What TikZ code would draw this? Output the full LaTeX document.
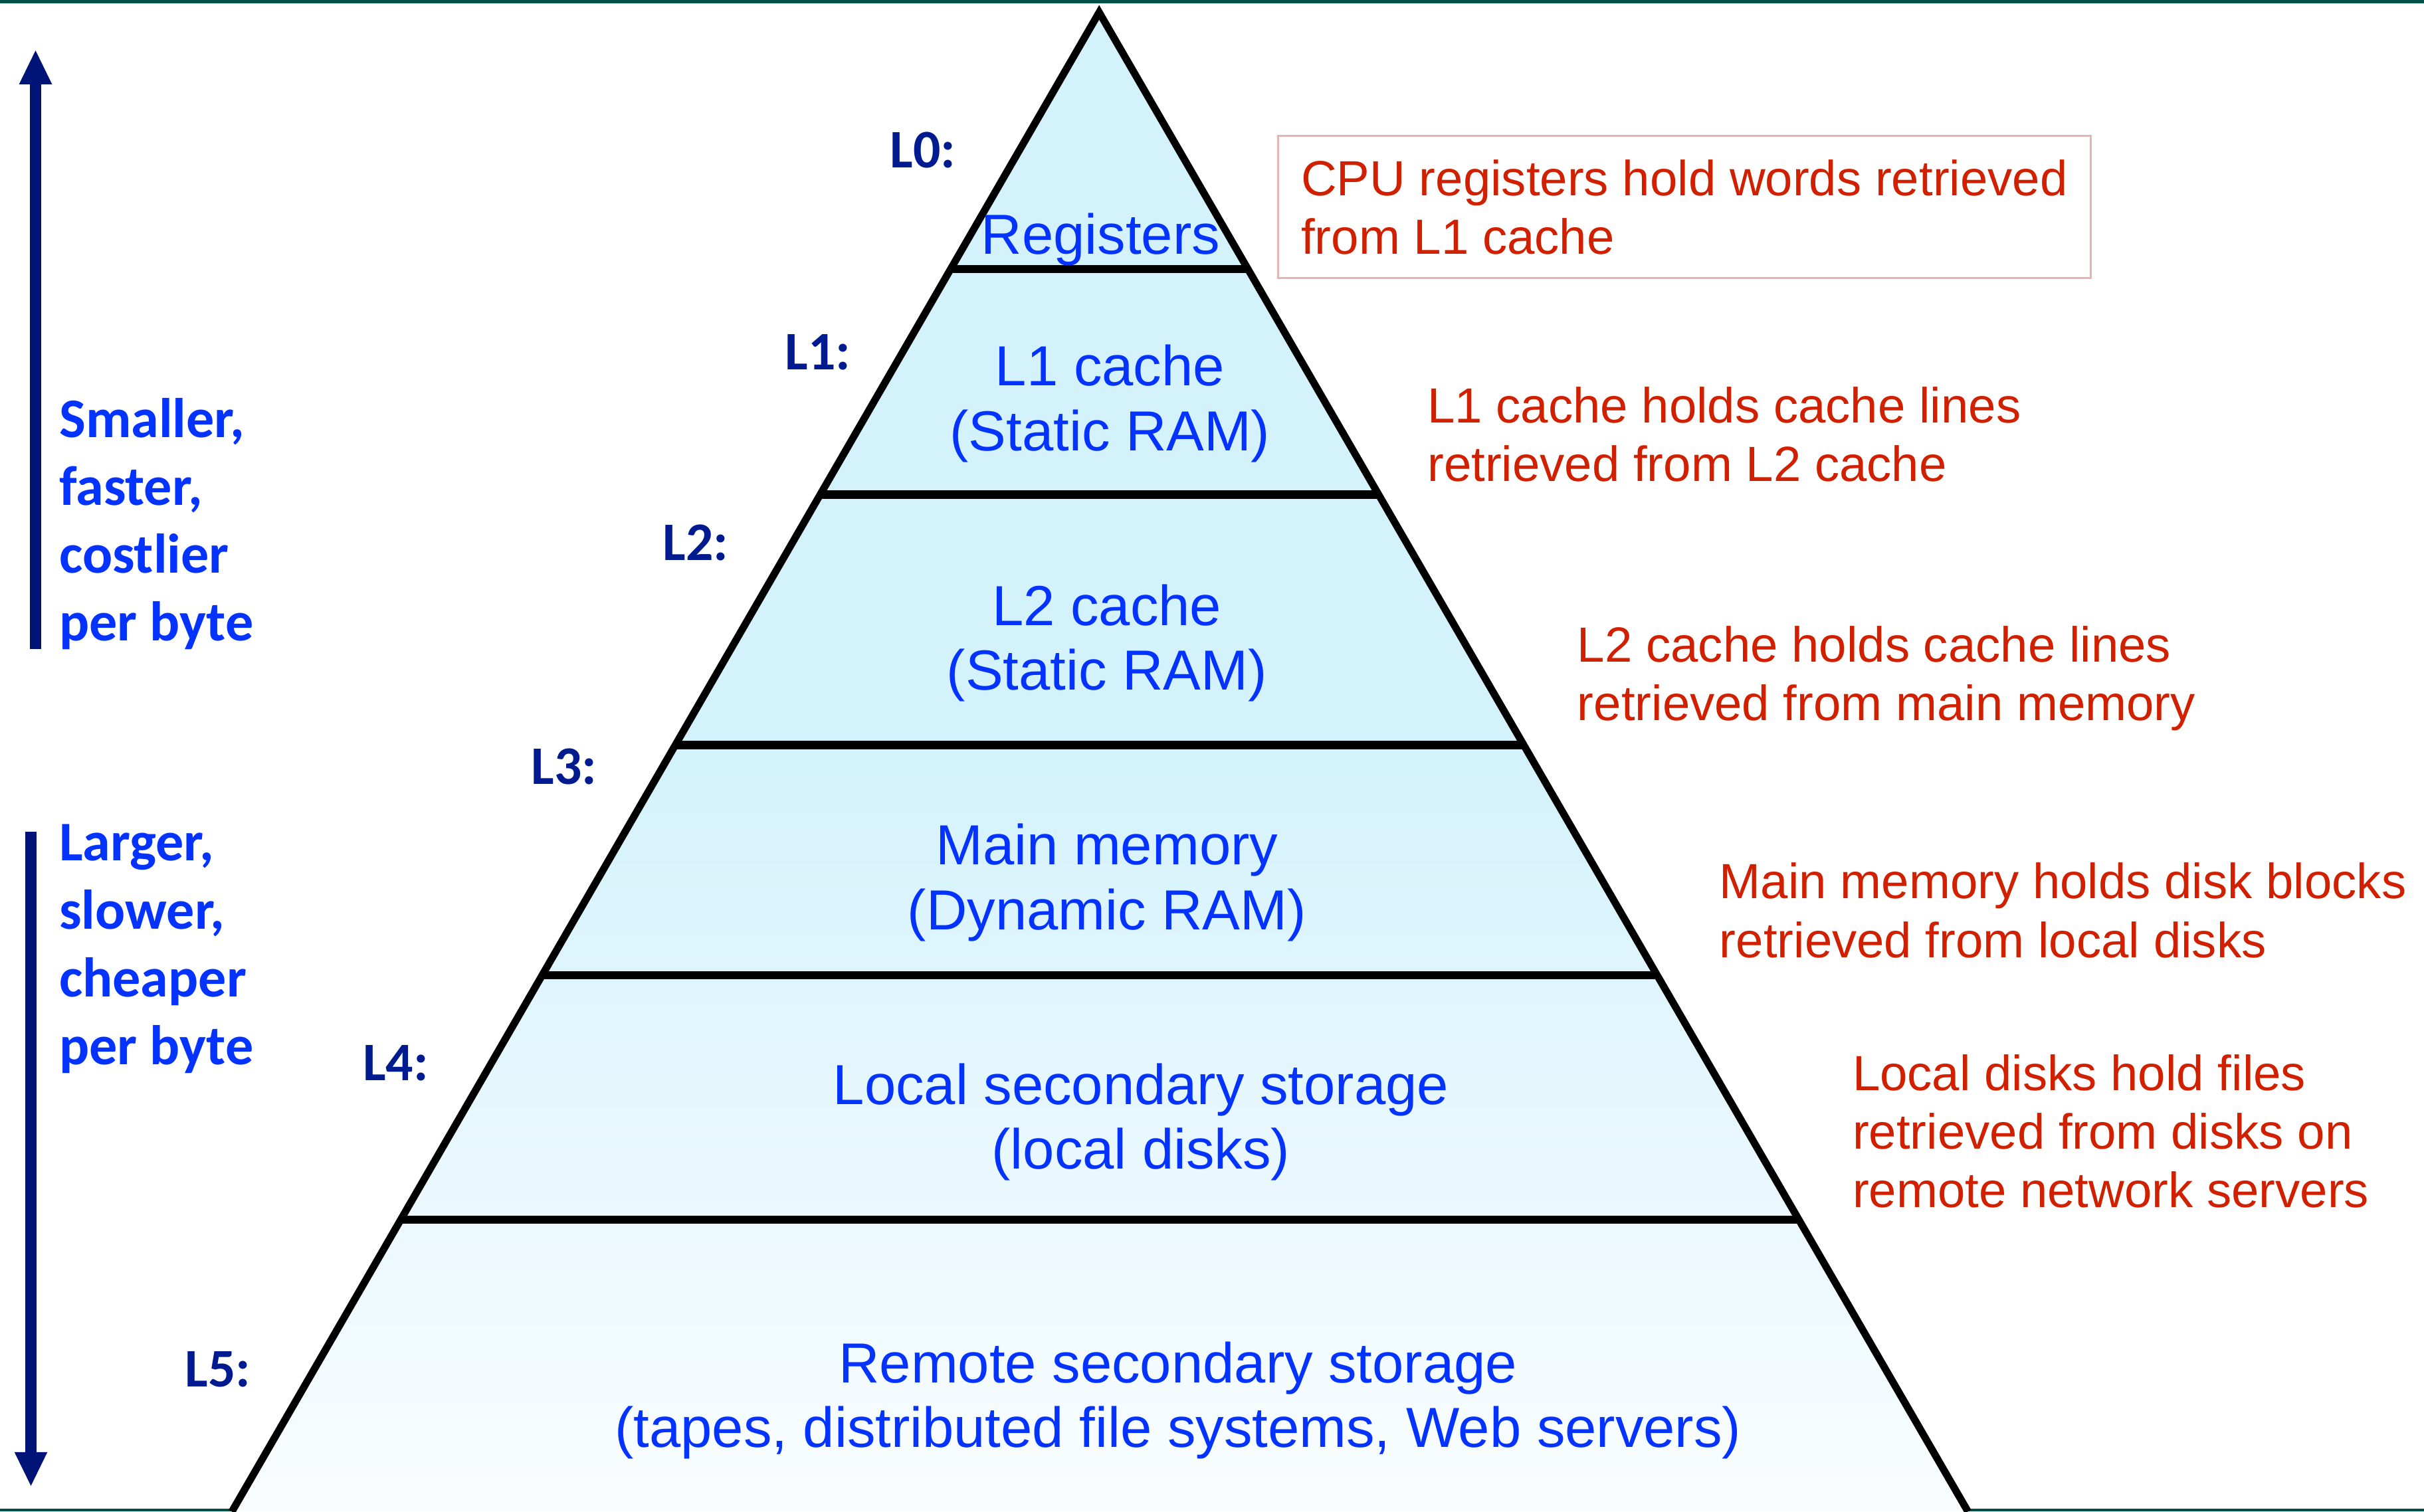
\documentclass[tikz,border=0pt]{standalone}
\usepackage{fontspec}
\setmainfont{Liberation Sans}
\newfontfamily\calibrifont{Carlito}
\usetikzlibrary{calc,arrows.meta}

\definecolor{nivelazul}{RGB}{4,51,255}
\definecolor{marino}{RGB}{0,26,144}
\definecolor{flecha}{RGB}{0,20,120}
\definecolor{rojo}{RGB}{209,32,0}
\definecolor{cajaborde}{RGB}{232,180,176}
\definecolor{cian}{RGB}{212,242,252}
\definecolor{cianclaro}{RGB}{250,253,255}
\definecolor{verde}{RGB}{0,80,74}

\tikzset{
  capa/.style={text=nivelazul, align=center, inner sep=0pt, font=\fontsize{20.8}{23.9}\selectfont},
  nivel/.style={text=marino, inner sep=0pt, font=\calibrifont\bfseries\fontsize{20}{24}\selectfont},
  nota/.style={text=rojo, align=left, anchor=west, inner sep=0pt, font=\fontsize{18.2}{21.6}\selectfont},
  lado/.style={text=nivelazul, align=left, anchor=west, inner sep=0pt, font=\calibrifont\bfseries\fontsize{20.6}{25}\selectfont},
  sentido/.style={flecha, line width=4pt, -{Triangle[length=0.45cm,width=0.39cm]}},
}

\begin{document}
\begin{tikzpicture}[x=0.02cm,y=-0.02cm]
    \useasboundingbox (0,0) rectangle (1568,978);

    % Bordes de la diapositiva
    \fill[verde] (0,0) rectangle (1568,2);
    \fill[verde] (0,976) rectangle (1568,978);

    % Piramide
    \coordinate (cima) at (711,8);
    \coordinate (izq) at (150,978);
    \coordinate (der) at (1273,978);
    \shade[top color=cian, bottom color=cianclaro, middle color=cian] (izq) -- (cima) -- (der) -- cycle;
    \draw[line width=2.7pt, line join=miter] (izq) -- (cima) -- (der);

    % Divisiones entre niveles
    \foreach \t in {0.1711,0.3216,0.4887,0.6423,0.8052} {
        \draw[line width=3pt] ($(cima)!\t!(izq)$) -- ($(cima)!\t!(der)$);
    }

    % Contenido de cada nivel
    \node[capa] (reg) at (712,155) {Registers};
    \node[capa] (l1c) at (718,261) {L1 cache\\(Static RAM)};
    \node[capa] (l2c) at (716,416) {L2 cache\\(Static RAM)};
    \node[capa] (mem) at (716,571) {Main memory\\(Dynamic RAM)};
    \node[capa] (local) at (738,726) {Local secondary storage\\(local disks)};
    \node[capa] (remoto) at (762,906) {Remote secondary storage\\(tapes, distributed file systems, Web servers)};

    % Etiquetas de nivel
    \node[nivel] (n0) at (597,97) {L0:};
    \node[nivel] (n1) at (529,228) {L1:};
    \node[nivel] (n2) at (450,351) {L2:};
    \node[nivel] (n3) at (365,496) {L3:};
    \node[nivel] (n4) at (256,688) {L4:};
    \node[nivel] (n5) at (141,886) {L5:};

    % Notas a la derecha
    \node[nota, draw=cajaborde, line width=0.8pt, inner xsep=0.3cm, minimum height=1.84cm] (nota0) at (826,134) {CPU registers hold words retrieved\\from L1 cache};
    \node[nota] (nota1) at (923,281) {L1 cache holds cache lines\\retrieved from L2 cache};
    \node[nota] (nota2) at (1020,439) {L2 cache holds cache lines\\retrieved from main memory};
    \node[nota] (nota3) at (1112,589) {Main memory holds disk blocks\\retrieved from local disks};
    \node[nota] (nota4) at (1198,732) {Local disks hold files\\retrieved from disks on\\remote network servers};

    % Lado izquierdo
    \node[lado] (arriba) at (38,339) {Smaller,\\faster,\\costlier\\per byte};
    \node[lado] (abajo) at (38,614) {Larger,\\slower,\\cheaper\\per byte};

    \coordinate (subeA) at (23,420);
    \coordinate (subeB) at (23,32);
    \draw[sentido] (subeA) -- (subeB);
    \coordinate (bajaA) at (20,538);
    \coordinate (bajaB) at (20,962);
    \draw[sentido] (bajaA) -- (bajaB);
\end{tikzpicture}
\end{document}
